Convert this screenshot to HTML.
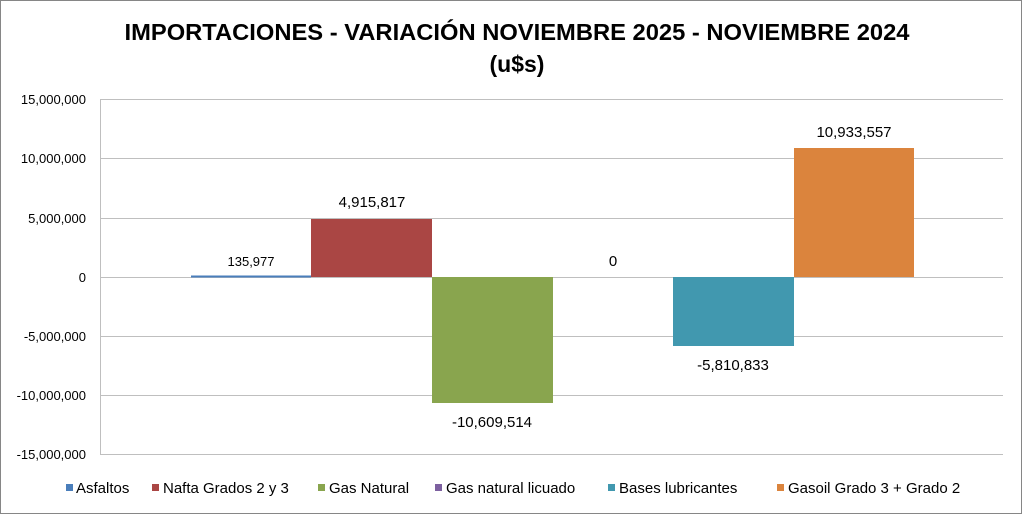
<!DOCTYPE html>
<html><head><meta charset="utf-8"><style>
body{margin:0;background:#fff}
svg{display:block}
text{font-family:"Liberation Sans",sans-serif;fill:#000}
</style></head><body>
<svg width="1022" height="514" viewBox="0 0 1022 514">
<rect x="0.5" y="0.5" width="1021" height="513" fill="#fff" stroke="#868686"/>
<text x="517" y="40" font-size="23" font-weight="bold" text-anchor="middle" textLength="785" lengthAdjust="spacingAndGlyphs">IMPORTACIONES - VARIACIÓN NOVIEMBRE 2025 - NOVIEMBRE 2024</text>
<text x="517" y="72" font-size="23" font-weight="bold" text-anchor="middle">(u$s)</text>
<g stroke="#bfbfbf" stroke-width="1">
<line x1="100" y1="99.5" x2="1003" y2="99.5"/>
<line x1="100" y1="158.5" x2="1003" y2="158.5"/>
<line x1="100" y1="218.5" x2="1003" y2="218.5"/>
<line x1="100" y1="277.5" x2="1003" y2="277.5"/>
<line x1="100" y1="336.5" x2="1003" y2="336.5"/>
<line x1="100" y1="395.5" x2="1003" y2="395.5"/>
<line x1="100" y1="454.5" x2="1003" y2="454.5"/>
<line x1="100.5" y1="99" x2="100.5" y2="455"/>
</g>
<g font-size="13" text-anchor="end">
<text x="86" y="104">15,000,000</text>
<text x="86" y="163">10,000,000</text>
<text x="86" y="223">5,000,000</text>
<text x="86" y="282">0</text>
<text x="86" y="341">-5,000,000</text>
<text x="86" y="400">-10,000,000</text>
<text x="86" y="459">-15,000,000</text>
</g>
<rect x="191" y="275.5" width="120" height="2" fill="#4a7ebb"/>
<rect x="311" y="219" width="121" height="58" fill="#aa4644"/>
<rect x="432" y="277" width="121" height="126" fill="#89a54e"/>
<rect x="673" y="277" width="121" height="69" fill="#4198af"/>
<rect x="794" y="148" width="120" height="129" fill="#db843d"/>
<g font-size="15" text-anchor="middle">
<text x="251" y="266" font-size="13">135,977</text>
<text x="372" y="207">4,915,817</text>
<text x="492" y="427">-10,609,514</text>
<text x="613" y="266">0</text>
<text x="733" y="370">-5,810,833</text>
<text x="854" y="137">10,933,557</text>
</g>
<g font-size="15">
<rect x="66" y="484" width="7" height="7" fill="#4a7ebb"/><text x="76" y="493">Asfaltos</text>
<rect x="152" y="484" width="7" height="7" fill="#aa4644"/><text x="163" y="493">Nafta Grados 2 y 3</text>
<rect x="318" y="484" width="7" height="7" fill="#89a54e"/><text x="329" y="493">Gas Natural</text>
<rect x="435" y="484" width="7" height="7" fill="#7d60a0"/><text x="446" y="493">Gas natural licuado</text>
<rect x="608" y="484" width="7" height="7" fill="#4198af"/><text x="619" y="493">Bases lubricantes</text>
<rect x="777" y="484" width="7" height="7" fill="#db843d"/><text x="788" y="493">Gasoil Grado 3 + Grado 2</text>
</g>
</svg>
</body></html>
